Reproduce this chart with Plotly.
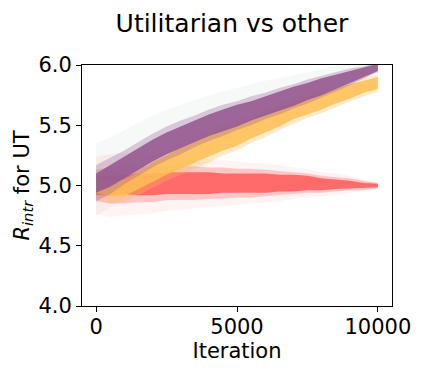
import plotly.graph_objects as go

iterations = [0, 500, 1000, 1500, 2000, 2500, 3000, 3500, 4000, 4500, 5000,
              5500, 6000, 6500, 7000, 7500, 8000, 8500, 9000, 9500, 9999]

# centre of each band
purple_mid = [5.02, 5.08, 5.15, 5.22, 5.29, 5.35, 5.40, 5.45, 5.50, 5.54, 5.58,
              5.62, 5.66, 5.70, 5.74, 5.78, 5.82, 5.86, 5.90, 5.94, 5.98]
orange_mid = [5.00, 4.97, 4.98, 5.04, 5.11, 5.17, 5.23, 5.28, 5.33, 5.38, 5.42,
              5.47, 5.52, 5.57, 5.62, 5.66, 5.70, 5.74, 5.78, 5.82, 5.85]
red_mid = [5.00, 5.00, 5.01, 5.01, 5.01, 5.02, 5.02, 5.02, 5.02, 5.02, 5.02,
           5.02, 5.02, 5.02, 5.02, 5.02, 5.01, 5.01, 5.01, 5.00, 5.00]
green_mid = [5.05, 5.11, 5.18, 5.25, 5.32, 5.38, 5.43, 5.48, 5.53, 5.57, 5.61,
             5.65, 5.69, 5.73, 5.77, 5.81, 5.85, 5.89, 5.92, 5.95, 5.99]

# half widths: dense core, spiky part, faint halo
purple_core = [0.08, 0.09, 0.09, 0.09, 0.09, 0.09, 0.09, 0.09, 0.09, 0.09, 0.09,
               0.08, 0.08, 0.08, 0.08, 0.07, 0.07, 0.06, 0.05, 0.04, 0.03]
purple_spike = [0.15, 0.15, 0.14, 0.14, 0.14, 0.14, 0.14, 0.13, 0.13, 0.13, 0.12,
                0.12, 0.11, 0.11, 0.10, 0.10, 0.09, 0.08, 0.07, 0.05, 0.04]
orange_core = [0.06, 0.06, 0.07, 0.07, 0.08, 0.08, 0.09, 0.09, 0.09, 0.09, 0.09,
               0.08, 0.08, 0.08, 0.07, 0.07, 0.07, 0.06, 0.06, 0.05, 0.05]
orange_spike = [0.11, 0.12, 0.12, 0.12, 0.13, 0.13, 0.14, 0.14, 0.14, 0.13, 0.13,
                0.12, 0.12, 0.11, 0.11, 0.10, 0.10, 0.09, 0.08, 0.08, 0.07]
red_core = [0.08, 0.08, 0.08, 0.09, 0.09, 0.09, 0.09, 0.09, 0.09, 0.08, 0.08,
            0.08, 0.08, 0.07, 0.07, 0.06, 0.05, 0.04, 0.03, 0.02, 0.015]
red_spike = [0.13, 0.15, 0.16, 0.15, 0.15, 0.14, 0.14, 0.14, 0.13, 0.13, 0.12,
             0.12, 0.11, 0.10, 0.09, 0.08, 0.07, 0.06, 0.05, 0.04, 0.02]
red_halo = [0.24, 0.26, 0.26, 0.25, 0.24, 0.23, 0.22, 0.21, 0.20, 0.19, 0.18,
            0.17, 0.16, 0.15, 0.13, 0.12, 0.10, 0.09, 0.07, 0.05, 0.03]
green_halo = [0.30, 0.29, 0.28, 0.27, 0.26, 0.25, 0.24, 0.23, 0.22, 0.21, 0.20,
              0.19, 0.18, 0.16, 0.15, 0.13, 0.12, 0.10, 0.09, 0.07, 0.04]

purple = (150, 90, 145)
orange = (255, 190, 85)
red = (255, 96, 96)
green = (140, 180, 155)


def band(mid, half, rgb, alpha):
    up = [m + h for m, h in zip(mid, half)]
    lo = [m - h for m, h in zip(mid, half)]
    return go.Scatter(
        x=iterations + iterations[::-1],
        y=up + lo[::-1],
        fill="toself",
        fillcolor="rgba(%d,%d,%d,%.2f)" % (rgb + (alpha,)),
        line=dict(width=0),
        mode="lines",
        hoverinfo="skip",
        showlegend=False,
    )


fig = go.Figure()
fig.add_trace(band(green_mid, green_halo, green, 0.08))
fig.add_trace(band(red_mid, red_halo, red, 0.08))
fig.add_trace(band(red_mid, red_spike, red, 0.30))
fig.add_trace(band(red_mid, red_core, red, 0.9))
fig.add_trace(band(orange_mid, orange_spike, orange, 0.30))
fig.add_trace(band(orange_mid, orange_core, orange, 0.85))
fig.add_trace(band(purple_mid, purple_spike, purple, 0.30))
fig.add_trace(band(purple_mid, purple_core, purple, 0.9))

axis_style = dict(
    showline=True, linecolor="black", linewidth=1, mirror=True,
    ticks="outside", ticklen=5, tickcolor="black", showgrid=False,
    zeroline=False, tickfont=dict(size=21, color="black"),
)

fig.update_layout(
    width=421, height=372,
    margin=dict(l=74, r=37, t=57, b=74),
    plot_bgcolor="white", paper_bgcolor="white",
    font=dict(family="DejaVu Sans", color="black"),
    title=dict(text="Utilitarian vs other", x=0.532, xanchor="center",
               y=0.96, yanchor="middle", font=dict(size=25)),
)
fig.update_xaxes(axis_style, range=[-500, 10500], tickvals=[0, 5000, 10000],
                 ticktext=["0", "5000", "10000"], ticklabelstandoff=-3,
                 title=dict(text="Iteration", font=dict(size=21), standoff=2))
fig.update_yaxes(axis_style, range=[4.0, 6.0], dtick=0.5, tickformat=".1f",
                 title=dict(text="<i>R</i><sub><i>intr</i></sub> for UT",
                            font=dict(size=21), standoff=3))

fig.write_html("out.html")
